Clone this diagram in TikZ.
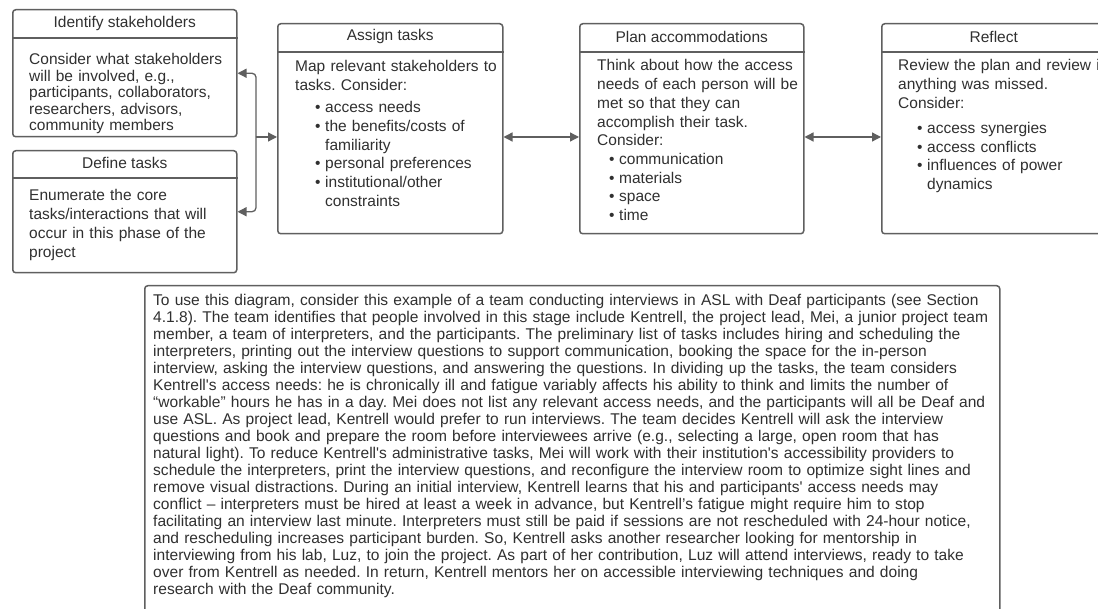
\documentclass[tikz,border=0pt]{standalone}
\usepackage{fontspec}
\setmainfont{Liberation Sans}[Ligatures=TeXOff]
\usetikzlibrary{arrows.meta}
\definecolor{ln}{HTML}{5F5F5F}
\definecolor{tx}{HTML}{303030}
\newcommand{\bitem}[2]{\hspace*{#1}\makebox[#2][l]{•}}
\frenchspacing
\begin{document}
\begin{tikzpicture}[x=1pt,y=-1pt,
  box/.style={draw=ln, line width=1.5pt, rounded corners=3pt, fill=white, inner sep=0pt, anchor=north west},
  divl/.style={draw=ln, line width=1.5pt},
  ttl/.style={text=tx, font=\fontsize{15.5}{18.7}\selectfont, inner sep=0pt},
  body/.style={text=tx, font=\fontsize{15.5}{18.7}\selectfont\frenchspacing, inner sep=0pt, anchor=base west, align=left, text width=280pt},
  arr/.style={draw=ln, line width=1.3pt, -{Triangle[length=9pt,width=9pt]}},
  arrd/.style={draw=ln, line width=1.3pt, {Triangle[length=9pt,width=9pt]}-{Triangle[length=9pt,width=9pt]}},
  ]
\useasboundingbox (0,0) rectangle (1098,609);
\clip (0,0) rectangle (1098,609);

% boxes
\node[box, minimum width=224pt, minimum height=127pt] (is) at (12,9) {};
\node[box, minimum width=224pt, minimum height=122pt] (dt) at (12,150) {};
\node[box, minimum width=225pt, minimum height=210pt] (as) at (277,23) {};
\node[box, minimum width=224pt, minimum height=210pt] (pl) at (579,23) {};
\node[box, minimum width=224pt, minimum height=210pt] (rf) at (881,23) {};
\node[box, minimum width=855pt, minimum height=340pt] (ex) at (144,285) {};

% header dividers
\draw[divl] ([yshift=-29pt]is.north west) -- ([yshift=-29pt]is.north east);
\draw[divl] ([yshift=-28pt]dt.north west) -- ([yshift=-28pt]dt.north east);
\draw[divl] ([yshift=-29pt]as.north west) -- ([yshift=-29pt]as.north east);
\draw[divl] ([yshift=-29pt]pl.north west) -- ([yshift=-29pt]pl.north east);
\draw[divl] ([yshift=-29pt]rf.north west) -- ([yshift=-29pt]rf.north east);

% titles
\node[ttl] (ist) at ([yshift=-14pt]is.north) {Identify stakeholders};
\node[ttl] (dtt) at ([yshift=-13pt]dt.north) {Define tasks};
\node[ttl] (ast) at ([yshift=-13.5pt]as.north) {Assign tasks};
\node[ttl] (plt) at ([yshift=-13.5pt]pl.north) {Plan accommodations};
\node[ttl] (rft) at ([yshift=-13.5pt]rf.north) {Reflect};

% bodies
\node[body, font=\fontsize{15.5}{16.5}\selectfont\frenchspacing] (isb) at (29,65) {Consider what stakeholders\\
will be involved, e.g.,\\
participants, collaborators,\\
researchers, advisors,\\
community members};

\node[body] (dtb) at (29,201) {Enumerate the core\\
tasks/interactions that will\\
occur in this phase of the\\
project};

\node[body] (asb) at (295,72) {Map relevant stakeholders to\\
tasks. Consider:\\[3.3pt]
\bitem{20pt}{10pt}access needs\\
\bitem{20pt}{10pt}the benefits/costs of\\
\hspace*{30pt}familiarity\\
\bitem{20pt}{10pt}personal preferences\\
\bitem{20pt}{10pt}institutional/other\\
\hspace*{30pt}constraints};

\node[body] (plb) at (597,71) {Think about how the access\\
needs of each person will be\\
met so that they can\\
accomplish their task.\\
Consider:\\
\bitem{12pt}{10pt}communication\\
\bitem{12pt}{10pt}materials\\
\bitem{12pt}{10pt}space\\
\bitem{12pt}{10pt}time};

\node[body] (rfb) at (898,71) {Review the plan and review if\\
anything was missed.\\
Consider:\\[6.3pt]
\bitem{19pt}{10pt}access synergies\\
\bitem{19pt}{10pt}access conflicts\\
\bitem{19pt}{10pt}influences of power\\
\hspace*{29pt}dynamics};

\node[body, font=\fontsize{15.55}{17}\selectfont\frenchspacing, text width=900pt] (exb) at (153,305.5) {To use this diagram, consider this example of a team conducting interviews in ASL with Deaf participants (see Section\\
4.1.8). The team identifies that people involved in this stage include Kentrell, the project lead, Mei, a junior project team\\
member, a team of interpreters, and the participants. The preliminary list of tasks includes hiring and scheduling the\\
interpreters, printing out the interview questions to support communication, booking the space for the in-person\\
interview, asking the interview questions, and answering the questions. In dividing up the tasks, the team considers\\
Kentrell's access needs: he is chronically ill and fatigue variably affects his ability to think and limits the number of\\
“workable” hours he has in a day. Mei does not list any relevant access needs, and the participants will all be Deaf and\\
use ASL. As project lead, Kentrell would prefer to run interviews. The team decides Kentrell will ask the interview\\
questions and book and prepare the room before interviewees arrive (e.g., selecting a large, open room that has\\
natural light). To reduce Kentrell's administrative tasks, Mei will work with their institution's accessibility providers to\\
schedule the interpreters, print the interview questions, and reconfigure the interview room to optimize sight lines and\\
remove visual distractions. During an initial interview, Kentrell learns that his and participants' access needs may\\
conflict – interpreters must be hired at least a week in advance, but Kentrell’s fatigue might require him to stop\\
facilitating an interview last minute. Interpreters must still be paid if sessions are not rescheduled with 24-hour notice,\\
and rescheduling increases participant burden. So, Kentrell asks another researcher looking for mentorship in\\
interviewing from his lab, Luz, to join the project. As part of her contribution, Luz will attend interviews, ready to take\\
over from Kentrell as needed. In return, Kentrell mentors her on accessible interviewing techniques and doing\\
research with the Deaf community.};

% connectors
\coordinate (j) at (256,137);
\draw[arr, rounded corners=4pt] (j) |- (is.east);
\draw[arr, rounded corners=4pt] (j) |- (dt.east);
\draw[arr] (j) -- (j -| as.west);
\draw[arrd] (as.east |- j) -- (pl.west |- j);
\draw[arrd] (pl.east |- j) -- (rf.west |- j);
\end{tikzpicture}
\end{document}
